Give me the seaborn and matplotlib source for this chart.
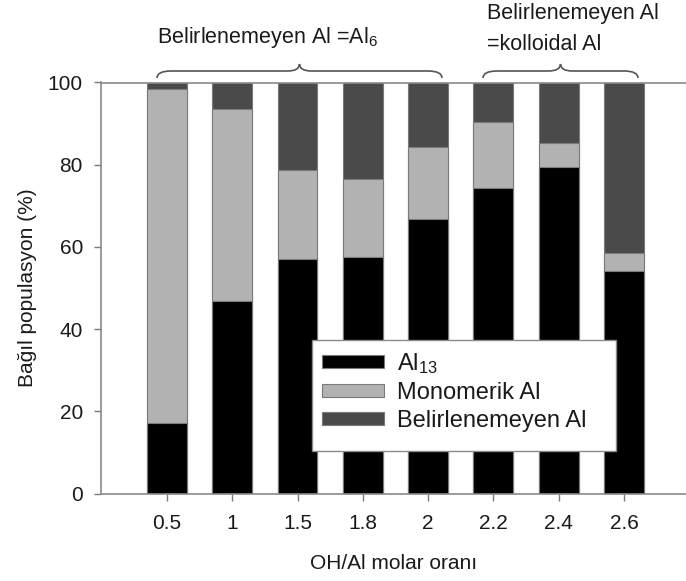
import matplotlib
matplotlib.use("Agg")
import matplotlib.pyplot as plt
import seaborn as sns
import numpy as np
import pandas as pd
from matplotlib.path import Path
from matplotlib.patches import PathPatch, Patch, Rectangle

# ---- data ----
categories = ["0.5", "1", "1.5", "1.8", "2", "2.2", "2.4", "2.6"]
al13 = [17.1, 46.9, 57.0, 57.6, 66.9, 74.3, 79.4, 54.1]
monomerik = [81.3, 46.7, 21.7, 18.9, 17.4, 16.0, 5.9, 4.3]
belirlenemeyen = [1.6, 6.4, 21.3, 23.5, 15.7, 9.7, 14.7, 41.6]
series_labels = ["Al$_{13}$", "Monomerik Al", "Belirlenemeyen Al"]
y_ticks = [0, 20, 40, 60, 80, 100]

sns.set_style("white")
plt.rcParams["font.family"] = ["Liberation Sans", "DejaVu Sans"]
plt.rcParams["mathtext.fontset"] = "custom"
plt.rcParams["mathtext.rm"] = "Liberation Sans"
plt.rcParams["mathtext.it"] = "Liberation Sans"
plt.rcParams["mathtext.default"] = "regular"

W, H = 686, 581
fig = plt.figure(figsize=(W / 100, H / 100), dpi=100)
ax = fig.add_axes([101 / W, 1 - 493.5 / H, 1 - 101 / W, (493.5 - 82.5) / H])

df = pd.DataFrame({"cat": categories,
                   "al13": al13,
                   "mono": monomerik,
                   "bel": belirlenemeyen})
df["top2"] = df["al13"] + df["mono"]
df["top3"] = df["top2"] + df["bel"]

colors = ["#000000", "#b2b2b2", "#4a4a4a"]
edge = "#7a7a7a"
bw = 0.61
sns.barplot(data=df, x="cat", y="top3", color=colors[2], width=bw,
            edgecolor=edge, linewidth=0.8, ax=ax, saturation=1)
sns.barplot(data=df, x="cat", y="top2", color=colors[1], width=bw,
            edgecolor=edge, linewidth=0.8, ax=ax, saturation=1)
sns.barplot(data=df, x="cat", y="al13", color=colors[0], width=bw,
            edgecolor=edge, linewidth=0.8, ax=ax, saturation=1)

ax.set_xlim(-1.01, 7.95)
ax.set_ylim(0, 100)
ax.set_yticks(y_ticks)
ax.tick_params(axis="both", labelsize=15, colors="#7a7a7a",
               labelcolor="#1a1a1a", length=5, width=1, direction="out",
               left=True, bottom=True)
ax.tick_params(axis="y", pad=8)
ax.tick_params(axis="x", pad=10)
for s in ["left", "top", "bottom"]:
    ax.spines[s].set_color("#8a8a8a")
    ax.spines[s].set_linewidth(1.2)
ax.spines["right"].set_visible(False)
ax.set_xlabel("OH/Al molar oranı", fontsize=15, color="#1a1a1a", labelpad=15)
ax.set_ylabel("Bağıl populasyon (%)", fontsize=15, color="#1a1a1a", labelpad=8)

# legend frame + legend
fig.add_artist(Rectangle((311.7 / W, 1 - 451 / H), (616 - 311.7) / W,
                         (451 - 340) / H, transform=fig.transFigure,
                         facecolor="white", edgecolor="#8a8a8a",
                         linewidth=1.0, zorder=3))
handles = [Patch(facecolor=c, edgecolor=edge, linewidth=0.8) for c in colors]
leg = fig.legend(handles, series_labels, loc="upper left",
                 bbox_to_anchor=(322 / W, 1 - 351 / H),
                 bbox_transform=fig.transFigure, fontsize=17,
                 frameon=False, borderaxespad=0, borderpad=0,
                 handlelength=2.62, handleheight=0.5, labelspacing=0.25,
                 handletextpad=0.55)
leg.set_zorder(5)
for t in leg.get_texts():
    t.set_color("#1a1a1a")


def brace(x0, x1, y_end, y_flat, y_peak):
    xc = (x0 + x1) / 2
    def P(x, y):
        return (x / W, 1 - y / H)
    verts = [P(x0, y_end), P(x0, y_flat), P(x0 + 14, y_flat),
             P(xc - 12, y_flat),
             P(xc, y_flat), P(xc, y_peak),
             P(xc, y_flat), P(xc + 12, y_flat),
             P(x1 - 14, y_flat),
             P(x1, y_flat), P(x1, y_end)]
    codes = [Path.MOVETO, Path.CURVE3, Path.CURVE3,
             Path.LINETO,
             Path.CURVE3, Path.CURVE3,
             Path.CURVE3, Path.CURVE3,
             Path.LINETO,
             Path.CURVE3, Path.CURVE3]
    fig.add_artist(PathPatch(Path(verts, codes), facecolor="none",
                             edgecolor="#555555", linewidth=1.2,
                             transform=fig.transFigure))


brace(157, 442, 78, 71, 64)
brace(483, 638, 78, 71, 64)

fig.text(157 / W, 1 - 38 / H, "Belirlenemeyen Al =Al$_{6}$", fontsize=15.5,
         ha="left", va="center", color="#1a1a1a")
fig.text(487 / W, 1 - 14 / H, "Belirlenemeyen Al", fontsize=15.5,
         ha="left", va="center", color="#1a1a1a")
fig.text(487 / W, 1 - 45 / H, "=kolloidal Al", fontsize=15.5,
         ha="left", va="center", color="#1a1a1a")

fig.savefig("out.png", dpi=100)
